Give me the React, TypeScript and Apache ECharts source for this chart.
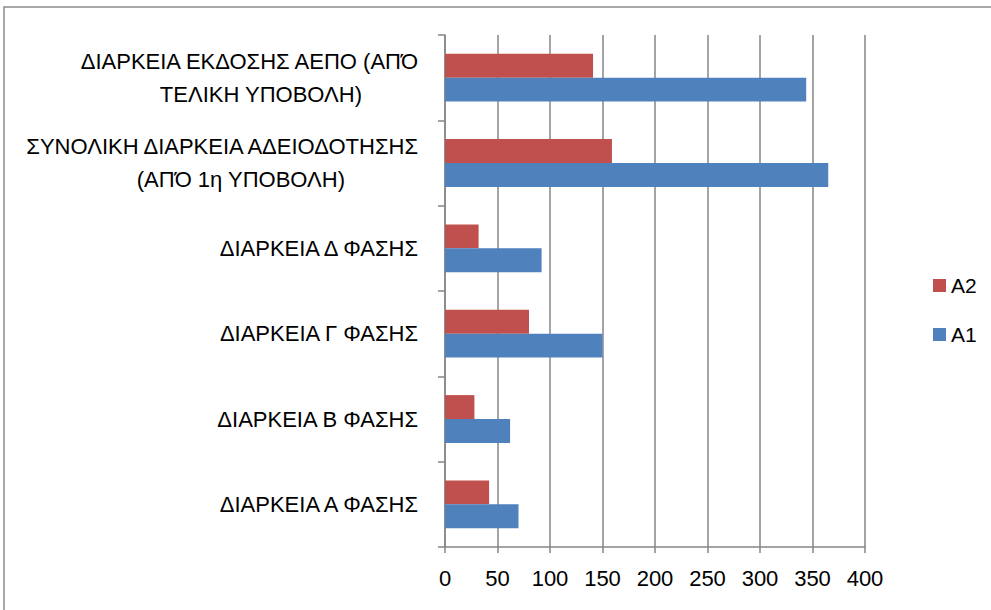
import React, { useEffect, useRef } from "react";
import * as echarts from "echarts";

const categories = [
  "ΔΙΑΡΚΕΙΑ Α ΦΑΣΗΣ",
  "ΔΙΑΡΚΕΙΑ Β ΦΑΣΗΣ",
  "ΔΙΑΡΚΕΙΑ Γ ΦΑΣΗΣ",
  "ΔΙΑΡΚΕΙΑ Δ ΦΑΣΗΣ",
  "ΣΥΝΟΛΙΚΗ ΔΙΑΡΚΕΙΑ ΑΔΕΙΟΔΟΤΗΣΗΣ\n(ΑΠΌ 1η ΥΠΟΒΟΛΗ)",
  "ΔΙΑΡΚΕΙΑ ΕΚΔΟΣΗΣ ΑΕΠΟ (ΑΠΌ\nΤΕΛΙΚΗ ΥΠΟΒΟΛΗ)",
];
const a1Values = [70, 62, 150, 92, 365, 344];
const a2Values = [42, 28, 80, 32, 159, 141];
const seriesNames = ["A1", "A2"];

export default function App() {
  const ref = useRef<HTMLDivElement>(null);
  useEffect(() => {
    if (!ref.current) return;
    const chart = echarts.init(ref.current, null, { renderer: "svg" });
    const font = "Liberation Sans";
    const lbl = { fontSize: 22, color: "#000", fontFamily: font, lineHeight: 33 };
    chart.setOption({
      animation: false,
      backgroundColor: "#ffffff",
      textStyle: { fontFamily: font },
      graphic: [
        {
          type: "rect",
          shape: { x: 4, y: 7, width: 1000, height: 620 },
          style: { fill: "none", stroke: "#8c8c8c", lineWidth: 1.5 },
          silent: true,
        },
      ],
      legend: {
        orient: "vertical",
        left: 928,
        top: 270,
        itemWidth: 13,
        itemHeight: 13,
        itemGap: 28,
        icon: "rect",
        data: ["A2", "A1"],
        textStyle: { fontSize: 21, color: "#000", fontFamily: font },
      },
      grid: { left: 445, right: 126, top: 35, bottom: 63, containLabel: false },
      xAxis: {
        type: "value",
        min: 0,
        max: 400,
        interval: 50,
        axisLine: { show: true, lineStyle: { color: "#868686", width: 1.5 } },
        axisTick: { show: true, length: 6, lineStyle: { color: "#868686", width: 1.5 } },
        splitLine: { show: true, lineStyle: { color: "#868686", width: 1.5 } },
        axisLabel: { color: "#000", fontSize: 22, margin: 20, fontFamily: font },
      },
      yAxis: {
        type: "category",
        data: categories,
        axisLine: { show: true, lineStyle: { color: "#868686", width: 1.5 } },
        axisTick: { show: true, length: 7, lineStyle: { color: "#868686", width: 1.5 } },
        axisLabel: {
          color: "#000",
          fontSize: 22,
          margin: 27,
          lineHeight: 33,
          fontFamily: font,
          formatter: (v: string, i: number) => {
            const parts = v.split("\n");
            if (parts.length < 2) return "{a|" + v + "}";
            return "{a|" + parts[0] + "}\n{b" + i + "|" + parts[1] + "}";
          },
          rich: {
            a: lbl,
            b4: { ...lbl, padding: [0, 73, 0, 0] },
            b5: { ...lbl, padding: [0, 56, 0, 0] },
          },
        },
      },
      series: [
        {
          name: seriesNames[1],
          type: "bar",
          data: a2Values,
          itemStyle: { color: "#c0504d" },
          barGap: "0%",
          barCategoryGap: "44%",
        },
        {
          name: seriesNames[0],
          type: "bar",
          data: a1Values,
          itemStyle: { color: "#4f81bd" },
          barGap: "0%",
          barCategoryGap: "44%",
        },
      ],
    });
    return () => chart.dispose();
  }, []);
  return (
    <div
      ref={ref}
      style={{ position: "fixed", left: 0, top: 0, width: 991, height: 610 }}
    />
  );
}
